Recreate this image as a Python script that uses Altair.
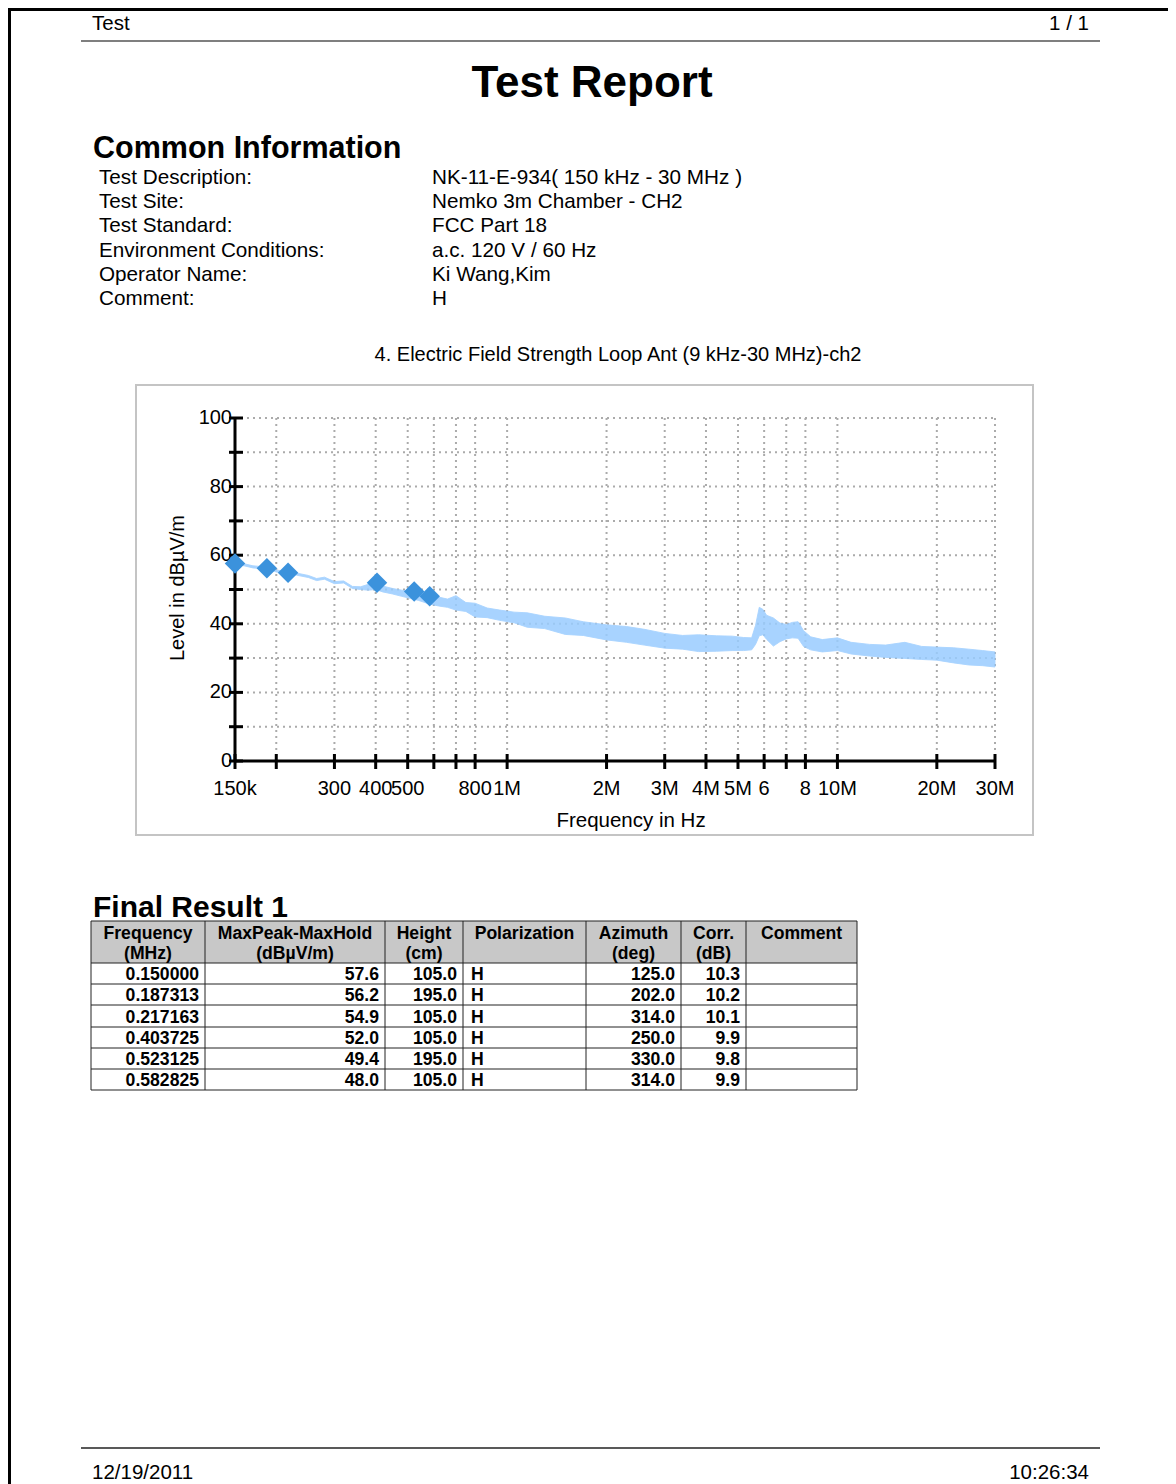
import altair as alt
import pandas as pd

# ---------------- data ----------------
HEADER_LEFT = "Test"
HEADER_RIGHT = "1 / 1"
REPORT_TITLE = "Test Report"
SECTION_TITLE = "Common Information"
INFO_LABELS = ["Test Description:", "Test Site:", "Test Standard:",
               "Environment Conditions:", "Operator Name:", "Comment:"]
INFO_VALUES = ["NK-11-E-934( 150 kHz - 30 MHz )", "Nemko 3m Chamber - CH2",
               "FCC Part 18", "a.c. 120 V / 60 Hz", "Ki Wang,Kim", "H"]
CHART_TITLE = "4. Electric Field Strength Loop Ant (9 kHz-30 MHz)-ch2"
X_TITLE = "Frequency in Hz"
Y_TITLE = "Level in dBµV/m"

# MaxPeak trace: lower and upper edge of the noisy band
TRACE_FREQ_MHZ = [0.150, 0.160, 0.170, 0.180, 0.190, 0.200, 0.215, 0.230, 0.250, 0.265,
                  0.280, 0.300, 0.320, 0.340, 0.360, 0.380, 0.400, 0.420, 0.450, 0.480,
                  0.510, 0.540, 0.580, 0.620, 0.660, 0.700, 0.750, 0.800, 0.870, 0.950,
                  1.05, 1.15, 1.30, 1.50, 1.70, 2.00, 2.30, 2.60, 3.00, 3.40,
                  3.80, 4.30, 4.80, 5.20, 5.50, 5.65, 5.80, 5.95, 6.10, 6.40,
                  6.70, 7.00, 7.30, 7.60, 7.90, 8.30, 9.00, 10.0, 11.0, 12.5,
                  14.0, 16.0, 18.0, 20.0, 22.5, 25.0, 27.5, 30.0]
TRACE_LO = [57.4, 56.9, 56.3, 56.1, 56.0, 55.1, 54.6, 54.2, 53.5, 52.6,
            53.0, 51.7, 51.9, 50.3, 50.0, 49.8, 50.0, 49.3, 48.7, 48.0,
            47.4, 46.8, 45.8, 45.2, 44.8, 44.0, 43.6, 42.0, 41.8, 41.0,
            40.3, 39.0, 38.6, 36.9, 36.6, 35.3, 34.6, 33.8, 32.9, 32.6,
            31.9, 32.0, 32.2, 32.2, 32.4, 34.0, 36.5, 36.8, 35.5, 33.5,
            34.8, 35.6, 35.9, 35.8, 33.4, 32.4, 31.8, 32.2, 31.2, 30.6,
            30.2, 29.9, 29.6, 29.4, 28.6, 28.0, 27.8, 27.4]
TRACE_HI = [58.0, 57.5, 56.9, 56.7, 56.6, 55.7, 55.2, 54.8, 54.1, 53.2,
            53.6, 52.3, 52.5, 50.9, 50.8, 51.5, 51.8, 51.0, 50.3, 49.8,
            49.3, 48.8, 48.0, 47.8, 47.2, 48.2, 46.2, 46.0, 44.6, 44.0,
            43.4, 43.2, 42.2, 41.7, 40.6, 39.7, 39.2, 38.4, 37.2, 36.6,
            36.8, 36.5, 36.4, 36.0, 35.9, 39.5, 44.8, 44.2, 42.5, 41.7,
            40.2, 39.8, 40.4, 40.6, 38.0, 36.2, 35.4, 35.9, 34.6, 34.0,
            33.8, 34.6, 33.4, 33.2, 33.0, 32.6, 32.2, 31.8]

X_TICKS_HZ = [150e3, 200e3, 300e3, 400e3, 500e3, 600e3, 700e3, 800e3, 1e6, 2e6, 3e6,
              4e6, 5e6, 6e6, 7e6, 8e6, 10e6, 20e6, 30e6]
X_LABEL_HZ = [150e3, 300e3, 400e3, 500e3, 800e3, 1e6, 2e6, 3e6, 4e6, 5e6, 6e6, 8e6,
              10e6, 20e6, 30e6]
X_LABEL_TXT = ["150k", "300", "400", "500", "800", "1M", "2M", "3M", "4M", "5M", "6",
               "8", "10M", "20M", "30M"]
Y_TICKS = [0, 10, 20, 30, 40, 50, 60, 70, 80, 90, 100]
Y_LABELS = [0, 20, 40, 60, 80, 100]

TABLE_TITLE = "Final Result 1"
COL_HEAD_1 = ["Frequency", "MaxPeak-MaxHold", "Height", "Polarization", "Azimuth", "Corr.", "Comment"]
COL_HEAD_2 = ["(MHz)", "(dBµV/m)", "(cm)", "", "(deg)", "(dB)", ""]
RES_FREQ_MHZ = [0.150000, 0.187313, 0.217163, 0.403725, 0.523125, 0.582825]
RES_LEVEL = [57.6, 56.2, 54.9, 52.0, 49.4, 48.0]
RES_HEIGHT = [105.0, 195.0, 105.0, 105.0, 195.0, 105.0]
RES_POL = ["H", "H", "H", "H", "H", "H"]
RES_AZIMUTH = [125.0, 202.0, 314.0, 250.0, 330.0, 314.0]
RES_CORR = [10.3, 10.2, 10.1, 9.9, 9.8, 9.9]
RES_COMMENT = ["", "", "", "", "", ""]

FOOTER_DATE = "12/19/2011"
FOOTER_TIME = "10:26:34"

# ---------------- layout (page pixels) ----------------
OX, OY = 235, 418          # plot-area origin on the page
W, H = 760, 343
CANVAS_W, CANVAS_H = 1160, 1476
SANS = "Liberation Sans, Arial, sans-serif"
TBL = "Liberation Sans, Arial, sans-serif"
TBL_SIZE = 17.6
COL_EDGES = [91, 205, 385, 463, 586, 681, 746, 857]
ROW_EDGES = [921, 963, 984, 1005, 1027, 1048, 1069, 1090]
COL_ALIGN = ["right", "right", "right", "left", "right", "right", "left"]

xscale = alt.Scale(type="log", domain=[150e3, 30e6], nice=False)
yscale = alt.Scale(domain=[0, 100], nice=False, zero=False)

layers = []
one = pd.DataFrame({"t": [""]})


def txt(s, x, y, size, weight="normal", align="left", font=SANS, angle=0,
        baseline="alphabetic", color="#000000"):
    return alt.Chart(pd.DataFrame({"t": [s]})).mark_text(
        align=align, baseline=baseline, fontSize=size, fontWeight=weight,
        font=font, angle=angle, color=color
    ).encode(x=alt.value(x - OX), y=alt.value(y - OY), text="t:N")


def hline(x1, x2, y, color="#000000", w=1.0):
    return alt.Chart(one).mark_rule(color=color, strokeWidth=w).encode(
        x=alt.value(x1 - OX), x2=alt.value(x2 - OX), y=alt.value(y - OY))


def vline(x, y1, y2, color="#000000", w=1.0):
    return alt.Chart(one).mark_rule(color=color, strokeWidth=w).encode(
        x=alt.value(x - OX), y=alt.value(y1 - OY), y2=alt.value(y2 - OY))


def rect(x1, y1, x2, y2, fill, stroke=None, w=0):
    kw = dict(fill=fill)
    if stroke:
        kw.update(stroke=stroke, strokeWidth=w)
    return alt.Chart(one).mark_rect(**kw).encode(
        x=alt.value(x1 - OX), x2=alt.value(x2 - OX),
        y=alt.value(y1 - OY), y2=alt.value(y2 - OY))


# page border (top and left)
layers.append(hline(8, 8 + CANVAS_W, 9.5, "#000000", 3))
layers.append(vline(9.5, 8, 8 + CANVAS_H, "#000000", 3))

# header
layers.append(txt(HEADER_LEFT, 92, 30, 20.5))
layers.append(txt(HEADER_RIGHT, 1089, 30, 20.5, align="right"))
layers.append(hline(81, 1100, 41, "#555555", 1.5))
layers.append(txt(REPORT_TITLE, 592, 97, 44, weight="bold", align="center"))
layers.append(txt(SECTION_TITLE, 93, 158, 30.5, weight="bold"))
for i, (lab, val) in enumerate(zip(INFO_LABELS, INFO_VALUES)):
    yb = 184 + i * 24.2
    layers.append(txt(lab, 99, yb, 20.7))
    layers.append(txt(val, 432, yb, 20.7))

# chart frame and title
layers.append(txt(CHART_TITLE, 618, 361, 20, align="center"))
layers.append(rect(136, 385, 1033, 835, "#ffffff", "#c4c4c4", 2))

# grid
tick_df = pd.DataFrame({"f": X_TICKS_HZ})
ytick_df = pd.DataFrame({"v": Y_TICKS})
layers.append(alt.Chart(tick_df).mark_rule(color="#ababab", strokeWidth=2, strokeDash=[2, 4]).encode(
    x=alt.X("f:Q", scale=xscale, axis=None), y=alt.value(0), y2=alt.value(H)))
layers.append(alt.Chart(ytick_df).mark_rule(color="#ababab", strokeWidth=2, strokeDash=[2, 4]).encode(
    y=alt.Y("v:Q", scale=yscale, axis=None), x=alt.value(0), x2=alt.value(W)))

# trace band
trace_df = pd.DataFrame({"f": [v * 1e6 for v in TRACE_FREQ_MHZ], "lo": TRACE_LO, "hi": TRACE_HI})
layers.append(alt.Chart(trace_df).mark_area(color="#99ccff", opacity=0.85,
                                            stroke="#99ccff", strokeWidth=1, strokeOpacity=0.9).encode(
    x=alt.X("f:Q", scale=xscale, axis=None),
    y=alt.Y("lo:Q", scale=yscale, axis=None), y2="hi:Q"))

# axes
layers.append(alt.Chart(one).mark_rule(color="#000000", strokeWidth=3).encode(
    x=alt.value(0), y=alt.value(-1), y2=alt.value(H + 1)))
layers.append(alt.Chart(one).mark_rule(color="#000000", strokeWidth=3).encode(
    x=alt.value(-1), x2=alt.value(W + 1), y=alt.value(H)))
layers.append(alt.Chart(ytick_df).mark_rule(color="#000000", strokeWidth=3).encode(
    y=alt.Y("v:Q", scale=yscale, axis=None), x=alt.value(-6), x2=alt.value(8)))
layers.append(alt.Chart(tick_df).mark_rule(color="#000000", strokeWidth=3).encode(
    x=alt.X("f:Q", scale=xscale, axis=None), y=alt.value(H - 7), y2=alt.value(H + 8)))
ylab_df = pd.DataFrame({"v": Y_LABELS, "t": [str(v) for v in Y_LABELS]})
layers.append(alt.Chart(ylab_df).mark_text(align="right", baseline="middle", fontSize=20,
                                           font=SANS, color="#000000").encode(
    y=alt.Y("v:Q", scale=yscale, axis=None), x=alt.value(-3), text="t:N"))
xlab_df = pd.DataFrame({"f": X_LABEL_HZ, "t": X_LABEL_TXT})
layers.append(alt.Chart(xlab_df).mark_text(align="center", baseline="alphabetic", fontSize=20,
                                           font=SANS, color="#000000").encode(
    x=alt.X("f:Q", scale=xscale, axis=None), y=alt.value(795 - OY), text="t:N"))
layers.append(txt(X_TITLE, 631, 827, 20.5, align="center"))
layers.append(txt(Y_TITLE, 178, 588, 20, align="center", angle=270, baseline="middle"))

# final result markers
res_df = pd.DataFrame({"f": [v * 1e6 for v in RES_FREQ_MHZ], "lvl": RES_LEVEL})
layers.append(alt.Chart(res_df).mark_point(shape="diamond", filled=True, size=420,
                                           color="#3b92dc", opacity=1).encode(
    x=alt.X("f:Q", scale=xscale, axis=None), y=alt.Y("lvl:Q", scale=yscale, axis=None)))

# table
layers.append(txt(TABLE_TITLE, 93, 917, 30, weight="bold", font=TBL))
layers.append(rect(COL_EDGES[0], ROW_EDGES[0], COL_EDGES[-1], ROW_EDGES[1], "#c8c8c8"))
for y in ROW_EDGES:
    layers.append(hline(COL_EDGES[0], COL_EDGES[-1], y, "#222222", 1))
for x in COL_EDGES:
    layers.append(vline(x, ROW_EDGES[0], ROW_EDGES[-1], "#222222", 1))
for c in range(7):
    cx = (COL_EDGES[c] + COL_EDGES[c + 1]) / 2
    layers.append(txt(COL_HEAD_1[c], cx, 939, TBL_SIZE, weight="bold", align="center", font=TBL))
    if COL_HEAD_2[c]:
        layers.append(txt(COL_HEAD_2[c], cx, 959, TBL_SIZE, weight="bold", align="center", font=TBL))

columns = [
    [f"{v:.6f}" for v in RES_FREQ_MHZ],
    [f"{v:.1f}" for v in RES_LEVEL],
    [f"{v:.1f}" for v in RES_HEIGHT],
    RES_POL,
    [f"{v:.1f}" for v in RES_AZIMUTH],
    [f"{v:.1f}" for v in RES_CORR],
    RES_COMMENT,
]
for r in range(len(RES_FREQ_MHZ)):
    yb = (ROW_EDGES[r + 1] + ROW_EDGES[r + 2]) / 2 + 6.5
    for c in range(7):
        s = columns[c][r]
        if not s:
            continue
        if COL_ALIGN[c] == "right":
            layers.append(txt(s, COL_EDGES[c + 1] - 6, yb, TBL_SIZE, weight="bold", align="right", font=TBL))
        else:
            layers.append(txt(s, COL_EDGES[c] + 8, yb, TBL_SIZE, weight="bold", align="left", font=TBL))

# footer
layers.append(hline(81, 1100, 1448, "#222222", 1.5))
layers.append(txt(FOOTER_DATE, 92, 1479, 20.5))
layers.append(txt(FOOTER_TIME, 1089, 1479, 20.5, align="right"))

chart = alt.layer(*layers).properties(
    width=W, height=H,
    autosize=alt.AutoSizeParams(type="none"),
    padding={"left": OX - 8, "top": OY - 8,
             "right": CANVAS_W - (OX - 8) - W, "bottom": CANVAS_H - (OY - 8) - H},
).configure_view(stroke=None).configure(background="#ffffff")

chart.save("out.html", embed_options={"renderer": "svg", "actions": False})
